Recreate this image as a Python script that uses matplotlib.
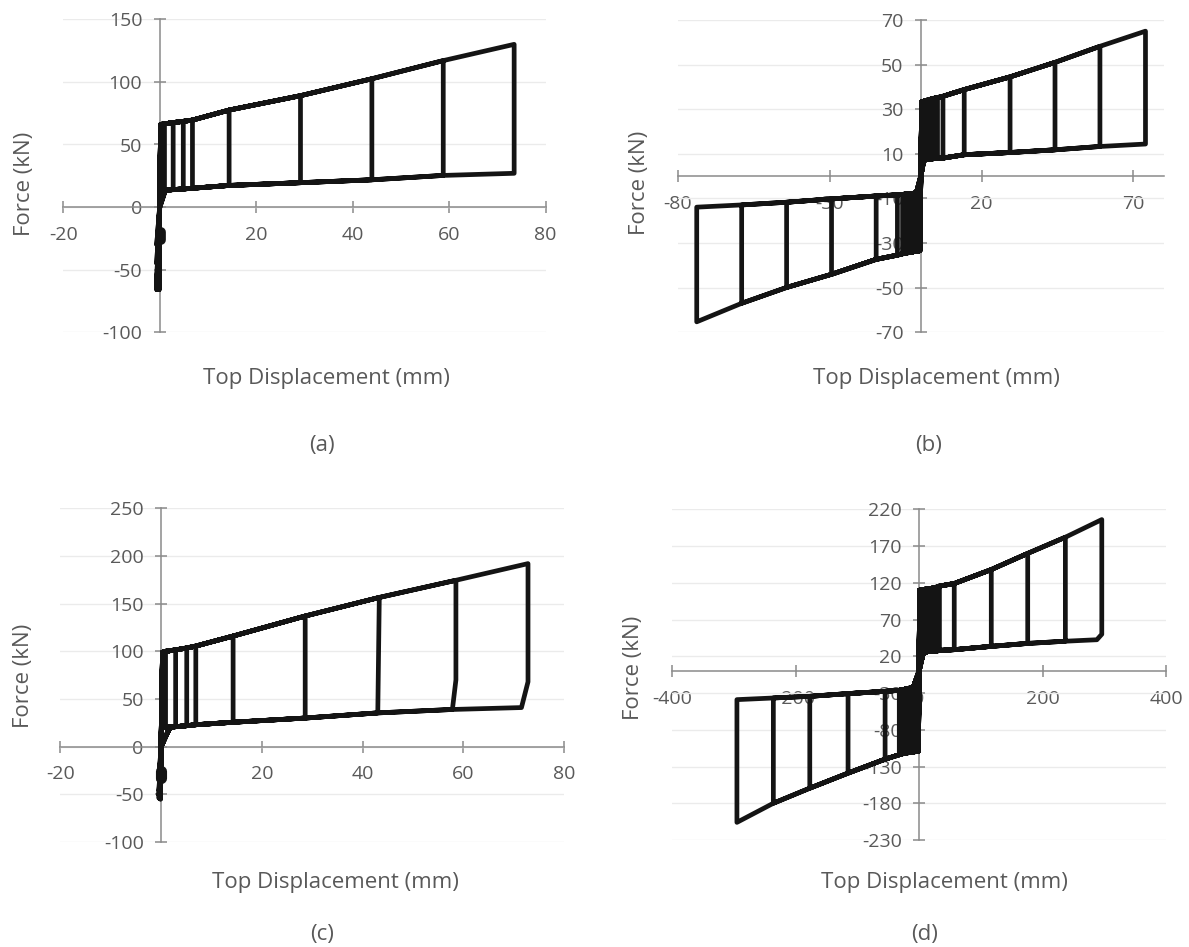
import numpy as np
import matplotlib
matplotlib.use("Agg")
import matplotlib.pyplot as plt

# ---------------- panel (a): one-sided response ----------------
a_disp = [0.5, 1.0, 2.8, 4.9, 6.8, 14.4, 29.2, 44.0, 58.8, 73.5]
a_upper = [66.2, 66.5, 67.5, 68.5, 69.5, 77.5, 89.0, 102.5, 117.0, 130.0]
a_lower = [13.2, 13.4, 14.0, 14.5, 15.0, 17.3, 19.5, 21.8, 25.3, 27.0]
a_neg_disp = [-0.1, -0.6, -0.1, -0.6, -0.1, -0.6, -0.1, -0.6, -0.1, -0.6]
a_neg_force = [-22, -30, -38, -45, -52, -58, -62, -65, -66, -66]
a_start_up = (0.2, 66.0)
a_start_low = (1.2, 14.0)
a_blob_x = [0.2, 0.2]
a_blob_f = [-20.0, -26.0]
a_xticks = [-20, 0, 20, 40, 60, 80]
a_yticks = [-100, -50, 0, 50, 100, 150]

# ---------------- panel (b): symmetric response ----------------
b_pos_disp = [1.0, 2.0, 3.0, 4.0, 5.5, 7.3, 14.3, 29.4, 44.2, 59.0, 74.0]
b_pos_upper = [33.6, 34.0, 34.4, 34.8, 35.2, 35.8, 38.8, 44.5, 51.0, 58.2, 65.0]
b_pos_lower = [7.2, 7.4, 7.6, 7.8, 8.0, 8.1, 9.6, 10.6, 11.8, 13.3, 14.4]
b_neg_disp = [-1.0, -2.0, -3.0, -4.5, -6.0, -7.7, -14.7, -29.4, -44.2, -59.0, -73.8]
b_neg_load = [-33.6, -33.8, -34.0, -34.4, -34.8, -35.4, -37.3, -44.0, -49.9, -57.0, -65.3]
b_neg_unload = [-7.5, -7.6, -7.8, -8.0, -8.2, -8.4, -8.9, -10.2, -11.7, -12.9, -13.9]
b_pos_start_up = (0.3, 33.4)
b_pos_start_low = (1.0, 7.2)
b_neg_start_load = (-0.3, -33.4)
b_neg_start_unload = (-1.4, -7.4)
b_xticks = [-80, -30, 20, 70]
b_yticks = [-70, -50, -30, -10, 10, 30, 50, 70]

# ---------------- panel (c): one-sided response ----------------
c_disp = [0.9, 2.9, 5.1, 6.9, 14.3, 28.6, 43.3, 58.5, 72.8]
c_upper = [100.0, 101.5, 103.5, 105.5, 116.0, 137.0, 156.5, 174.5, 192.0]
c_lower = [20.0, 21.0, 22.0, 23.0, 25.6, 30.0, 35.4, 39.0, 41.0]
c_unload_x = [0.9, 2.9, 5.1, 6.9, 14.3, 28.6, 43.0, 57.8, 71.5]
c_knee = [np.nan] * 7 + [70.0, 68.0]
c_neg_disp = [-0.1, -0.4, -0.1, -0.4, -0.1, -0.4, -0.1, -0.4, -0.1]
c_neg_force = [-25, -35, -42, -46, -49, -51, -53, -54, -55]
c_start_up = (0.3, 99.0)
c_start_low = (1.8, 20.5)
c_blob_x = [0.0, 0.0]
c_blob_f = [-26.0, -33.0]
c_xticks = [-20, 0, 20, 40, 60, 80]
c_yticks = [-100, -50, 0, 50, 100, 150, 200, 250]

# ---------------- panel (d): symmetric response ----------------
d_pos_disp = [4, 8, 12, 16, 20, 24, 28, 33, 57, 117, 176, 237, 296]
d_pos_upper = [110.5, 111, 111.5, 112, 112.5, 113, 114, 115.5, 119, 138, 160, 182, 206]
d_pos_lower = [25.5, 26, 26, 26.5, 26.5, 27, 27, 28, 29, 33.5, 37.5, 40.5, 42.5]
d_pos_unload_x = [4, 8, 12, 16, 20, 24, 28, 33, 57, 117, 176, 237, 288]
d_pos_knee = [np.nan] * 12 + [50.0]
d_neg_disp = [-4, -8, -12, -16, -20, -24, -28, -32, -55, -115, -177, -236, -295]
d_neg_load = [-109.5, -110, -110.5, -111, -111.5, -112, -113, -114, -120, -139, -159.5, -180, -206]
d_neg_unload = [-22, -22.5, -23, -23.5, -24, -25, -25.5, -26.3, -27.7, -30.8, -34.5, -36.7, -39]
d_pos_start_up = (1.0, 110.0)
d_pos_start_low = (7.0, 25.0)
d_neg_start_load = (-1.0, -109.0)
d_neg_start_unload = (-9.0, -22.0)
d_xticks = [-400, -200, 0, 200, 400]
d_yticks = [-230, -180, -130, -80, -30, 20, 70, 120, 170, 220]

FONT = ["Open Sans", "DejaVu Sans"]
TEXT = "#595959"
AXIS = "#8a8a8a"
INK = "#141414"
LW = 3.4


def positive_half(k, start_up, start_low, disp, upper, lower, unload_x, knee):
    xs = [start_up[0]] + list(disp[:k + 1])
    ys = [start_up[1]] + list(upper[:k + 1])
    if knee is not None and not np.isnan(knee[k]):
        xs.append(disp[k])
        ys.append(knee[k])
    ux = unload_x if unload_x is not None else disp
    xs += list(ux[k::-1]) + [start_low[0], 0.0]
    ys += list(lower[k::-1]) + [start_low[1], 0.0]
    return xs, ys


def one_sided(start_up, start_low, disp, upper, lower, neg_disp, neg_force,
              unload_x=None, knee=None):
    xs, ys = [0.0], [0.0]
    for k in range(len(disp)):
        px, py = positive_half(k, start_up, start_low, disp, upper, lower, unload_x, knee)
        xs += px + [neg_disp[k], 0.0]
        ys += py + [neg_force[k], 0.0]
    return xs, ys


def two_sided(p_up, p_low, p_disp, p_upper, p_lower, n_load0, n_unload0,
              n_disp, n_load, n_unload, unload_x=None, knee=None):
    xs, ys = [0.0], [0.0]
    for k in range(len(p_disp)):
        px, py = positive_half(k, p_up, p_low, p_disp, p_upper, p_lower, unload_x, knee)
        xs += px
        ys += py
        xs += [n_load0[0]] + list(n_disp[:k + 1]) + list(n_disp[k::-1]) + [n_unload0[0], 0.0]
        ys += [n_load0[1]] + list(n_load[:k + 1]) + list(n_unload[k::-1]) + [n_unload0[1], 0.0]
    return xs, ys


def style_axes(ax, xlim, ylim, xticks, yticks, xlabels=None):
    ax.set_xlim(*xlim)
    ax.set_ylim(*ylim)
    ax.set_xticks(xticks)
    ax.set_yticks(yticks)
    ax.set_xticklabels(xlabels if xlabels is not None else [str(t) for t in xticks])
    ax.set_yticklabels([str(t) for t in yticks])
    for side in ("top", "right"):
        ax.spines[side].set_visible(False)
    for side in ("left", "bottom"):
        ax.spines[side].set_position(("data", 0))
        ax.spines[side].set_color(AXIS)
        ax.spines[side].set_linewidth(1.1)
    ax.tick_params(axis="both", direction="inout", length=9, width=1.1, color=AXIS,
                   labelcolor=TEXT, labelsize=14)
    ax.tick_params(axis="x", pad=9)
    ax.tick_params(axis="y", pad=8)
    for lab in ax.get_xticklabels() + ax.get_yticklabels():
        lab.set_family(FONT)
    ax.yaxis.grid(True, color="#ebebeb", linewidth=1.0)
    ax.set_axisbelow(True)
    ax.patch.set_visible(False)


def draw(ax, xs, ys):
    ax.plot(xs, ys, color=INK, lw=LW, solid_joinstyle="round",
            solid_capstyle="round", zorder=4, clip_on=False)


W, H = 1189, 947
fig = plt.figure(figsize=(W / 100, H / 100), dpi=100)
fig.patch.set_facecolor("white")


def px_axes(x0, x1, y_top, y_bot):
    return fig.add_axes([x0 / W, 1 - y_bot / H, (x1 - x0) / W, (y_bot - y_top) / H])


# (a)
ax_a = px_axes(63.2, 545.5, 19.3, 332.3)
style_axes(ax_a, (-20, 80), (-100, 150), a_xticks, a_yticks,
           ["" if t == 0 else str(t) for t in a_xticks])
draw(ax_a, *one_sided(a_start_up, a_start_low, a_disp, a_upper, a_lower,
                      a_neg_disp, a_neg_force))
ax_a.plot(a_blob_x, a_blob_f, color=INK, lw=7, solid_capstyle="round", zorder=4)

# (b)
ax_b = px_axes(677.9, 1163.7, 20.0, 332.3)
style_axes(ax_b, (-80, 80), (-70, 70), b_xticks, b_yticks)
draw(ax_b, *two_sided(b_pos_start_up, b_pos_start_low, b_pos_disp, b_pos_upper,
                      b_pos_lower, b_neg_start_load, b_neg_start_unload,
                      b_neg_disp, b_neg_load, b_neg_unload))

# (c)
ax_c = px_axes(60.2, 564.3, 508.3, 842.0)
style_axes(ax_c, (-20, 80), (-100, 250), c_xticks, c_yticks,
           ["" if t == 0 else str(t) for t in c_xticks])
draw(ax_c, *one_sided(c_start_up, c_start_low, c_disp, c_upper, c_lower,
                      c_neg_disp, c_neg_force, unload_x=c_unload_x, knee=c_knee))
ax_c.plot(c_blob_x, c_blob_f, color=INK, lw=8, solid_capstyle="round", zorder=4)

# (d)
ax_d = px_axes(672.1, 1166.0, 509.3, 840.0)
style_axes(ax_d, (-400, 400), (-230, 220), d_xticks, d_yticks)
draw(ax_d, *two_sided(d_pos_start_up, d_pos_start_low, d_pos_disp, d_pos_upper,
                      d_pos_lower, d_neg_start_load, d_neg_start_unload,
                      d_neg_disp, d_neg_load, d_neg_unload,
                      unload_x=d_pos_unload_x, knee=d_pos_knee))


# axis titles and panel letters
def ftext(x, y, s, **kw):
    fig.text(x / W, 1 - y / H, s, ha="center", va="center", color=TEXT,
             family=FONT, **kw)


for (xx, yy) in [(326, 378), (936, 378), (335, 882), (944, 882)]:
    ftext(xx, yy, "Top Displacement (mm)", fontsize=16)
for (xx, yy) in [(24.5, 184), (639.5, 182.5), (23.5, 676), (634, 667.5)]:
    ftext(xx, yy, "Force (kN)", fontsize=16, rotation=90)
for (xx, yy, s) in [(322, 445, "(a)"), (929, 445, "(b)"), (322, 934, "(c)"), (925, 934, "(d)")]:
    ftext(xx, yy, s, fontsize=16)

fig.savefig("out.png", dpi=100, facecolor="white")
